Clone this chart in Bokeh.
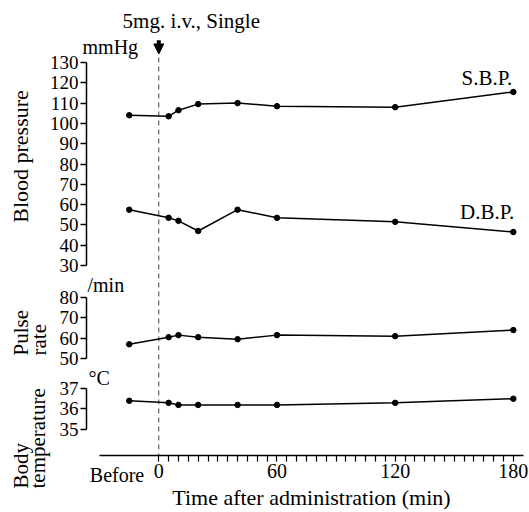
from bokeh.plotting import figure
from bokeh.models import (Range1d, FixedTicker, Label, Arrow, NormalHead,
                          LinearAxis)
from bokeh.embed import file_html
from bokeh.resources import INLINE
import math

# ---- data ----
times = [-15, 5, 10, 20, 40, 60, 120, 180]
sbp = [104, 103.5, 106.5, 109.5, 110, 108.5, 108, 115.5]
dbp = [57.5, 53.5, 52, 47, 57.5, 53.5, 51.5, 46.5]
pulse = [57, 60.5, 61.5, 60.5, 59.5, 61.5, 61, 64]
temp = [36.4, 36.3, 36.2, 36.2, 36.2, 36.2, 36.3, 36.5]

bp_ticks = [30, 40, 50, 60, 70, 80, 90, 100, 110, 120, 130]
pulse_ticks = [50, 60, 70, 80]
temp_ticks = [35, 36, 37]
x_labeled = [0, 60, 120, 180]
x_ticks = list(range(0, 181, 5))

FONT = "Liberation Serif"
Y_AXIS_X = -36.7      # x (min) where the vertical axes stand
X_AXIS_Y = -63.6      # BP value where the time axis stands

p = figure(width=529, height=512,
           x_range=Range1d(-80.36, 188.2), y_range=Range1d(-91.67, 160.54),
           output_backend="svg", toolbar_location=None,
           min_border_left=0, min_border_right=0, min_border_top=0,
           min_border_bottom=0)
p.extra_y_ranges = {"pulse": Range1d(-25.75, 226.1), "temp": Range1d(30.95, 55.93)}
p.outline_line_color = None
p.grid.visible = False


def style_axis(ax, size="19px"):
    ax.axis_line_width = 1.5
    ax.major_tick_line_width = 1.5
    ax.major_tick_out = 6
    ax.major_tick_in = 0
    ax.minor_tick_out = 0
    ax.minor_tick_in = 0
    ax.major_label_standoff = 2
    ax.major_label_text_font = FONT
    ax.major_label_text_font_size = size
    ax.major_label_text_color = "black"


# vertical axes
bp_ax = p.yaxis[0]
bp_ax.fixed_location = Y_AXIS_X
bp_ax.bounds = (30, 130)
bp_ax.ticker = FixedTicker(ticks=bp_ticks)
style_axis(bp_ax)

pu_ax = LinearAxis(y_range_name="pulse", fixed_location=Y_AXIS_X, bounds=(50, 80),
                   ticker=FixedTicker(ticks=pulse_ticks))
style_axis(pu_ax)
p.add_layout(pu_ax, "left")

te_ax = LinearAxis(y_range_name="temp", fixed_location=Y_AXIS_X, bounds=(35, 37),
                   ticker=FixedTicker(ticks=temp_ticks))
style_axis(te_ax)
p.add_layout(te_ax, "left")

# time axis
xa = p.xaxis[0]
xa.fixed_location = X_AXIS_Y
xa.bounds = (-30, 185)
xa.ticker = FixedTicker(ticks=x_ticks)
xa.major_label_overrides = {t: (str(t) if t in x_labeled else "") for t in x_ticks}
style_axis(xa, "20px")
xa.major_tick_line_width = 1.2


def add_label(text, x, y, size="21px", align="left", baseline="alphabetic",
              angle=0, rng="default"):
    p.add_layout(Label(x=x, y=y, text=text, text_font=FONT, text_font_size=size,
                       text_align=align, text_baseline=baseline, angle=angle,
                       text_color="black", y_range_name=rng))


def series(ys, rng="default"):
    p.line(times, ys, line_color="black", line_width=1.5, y_range_name=rng)
    p.scatter(times, ys, size=5.5, color="black", y_range_name=rng)


# dosing marker
p.segment(x0=[0], y0=[132.5], x1=[0], y1=[X_AXIS_Y], line_color="#444444",
          line_width=1, line_dash="5 4")
p.add_layout(Arrow(x_start=0, y_start=141, x_end=0, y_end=134.2, line_width=4,
                   line_color="black",
                   end=NormalHead(size=10, fill_color="black", line_color="black")))

series(sbp)
series(dbp)
series(pulse, "pulse")
series(temp, "temp")

add_label("5mg. i.v., Single", -18.4, 150.2)
add_label("mmHg", -38.7, 137.6, size="20px")
add_label("S.B.P.", 179.5, 122.6, align="right")
add_label("D.B.P.", 180.5, 56.3, align="right")
add_label("Blood pressure", -70.2, 83.7, size="22px", align="center",
          baseline="middle", angle=math.pi / 2)

add_label("/min", -36.2, 86.3, size="20px", rng="pulse")
add_label("Pulse", -70.2, 51.5, align="left", baseline="middle",
          angle=math.pi / 2, rng="pulse")
add_label("rate", -60.6, 51.5, align="left", baseline="middle",
          angle=math.pi / 2, rng="pulse")

add_label("°C", -35.7, 37.53, size="20px", rng="temp")
add_label("Body", -70.2, 32.12, align="left", baseline="middle",
          angle=math.pi / 2, rng="temp")
add_label("temperature", -61.1, 32.12, align="left", baseline="middle",
          angle=math.pi / 2, rng="temp")
add_label("Before", -21.2, 33.34, size="20px", align="center", baseline="top",
          rng="temp")
add_label("Time after administration (min)", 77.5, 31.68, size="22px",
          align="center", rng="temp")

open("out.html", "w").write(file_html(p, INLINE))
